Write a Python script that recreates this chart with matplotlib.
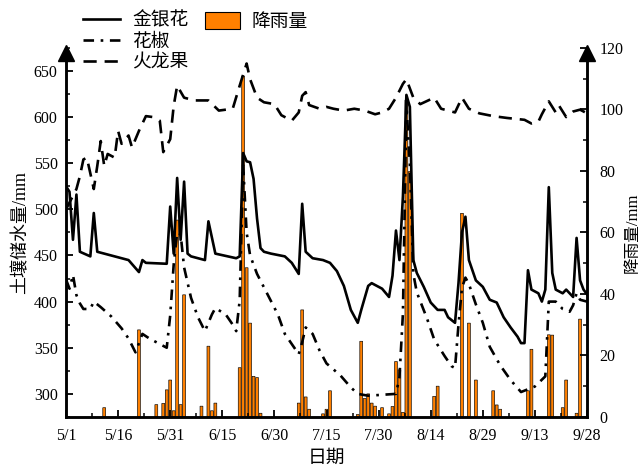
import matplotlib
matplotlib.use('Agg')
import matplotlib.pyplot as plt
import matplotlib.transforms as mtransforms
from matplotlib.patches import Patch
from matplotlib.ticker import MultipleLocator

plt.rcParams['font.family'] = ['Liberation Serif', 'Noto Sans CJK SC']
plt.rcParams['axes.unicode_minus'] = False

# x axis: days counted from 5/1
date_ticks = [0, 15, 30, 45, 60, 75, 90, 105, 120, 135, 150]
date_labels = ['5/1', '5/16', '5/31', '6/15', '6/30', '7/15', '7/30', '8/14', '8/29', '9/13', '9/28']

# soil water storage (mm) - honeysuckle
jyh_days = [0, 1, 2, 3, 4, 7, 8, 9, 14, 18, 21, 22, 23, 29, 30, 31, 32, 33, 34, 35, 36, 40, 41, 43,
            49, 50, 51, 52, 53, 54, 55, 56, 57, 59, 63, 65, 67, 68, 69, 71, 74, 76, 78, 80, 82, 84,
            85, 87, 88, 91, 93, 94, 95, 96, 97, 98, 99, 100, 101, 103, 105, 107, 109, 110, 112, 113,
            114, 115, 116, 117, 118, 120, 122, 124, 126, 128, 130, 131, 132, 133, 134, 136, 137, 138,
            139, 140, 141, 143, 144, 146, 147, 148, 149, 150]
jyh_water = [525, 519, 467, 516, 454, 449, 496, 454, 449, 445, 432, 445, 442, 441, 503, 452, 534, 467, 530, 452, 449, 445, 487, 452,
             447, 449, 561, 552, 551, 533, 490, 458, 454, 452, 449, 442, 430, 506, 454, 447, 445, 442, 433, 417, 391, 377,
             391, 417, 420, 414, 405, 428, 477, 445, 514, 624, 611, 445, 431, 416, 399, 391, 391, 383, 377, 420,
             475, 492, 445, 434, 423, 416, 402, 399, 383, 372, 362, 355, 355, 434, 413, 409, 400, 413,
             524, 431, 413, 409, 413, 405, 469, 423, 413, 408]

# soil water storage (mm) - Sichuan pepper
hj_days = [0, 1, 2, 3, 4, 5, 7, 8, 10, 13, 16, 18, 20, 22, 24, 27, 29, 30, 31, 32, 33, 34, 36, 38, 40,
           42, 43, 46, 48, 49, 50, 51, 52, 53, 55, 58, 61, 63, 67, 68, 69, 71, 73, 75, 79, 82, 84, 87,
           95, 96, 97, 98, 99, 100, 101, 104, 106, 109, 111, 112, 113, 114, 115, 116, 118, 120, 122,
           125, 128, 131, 135, 138, 139, 141, 143, 145, 146, 147, 148, 150]
hj_water = [424, 414, 429, 407, 398, 392, 392, 400, 394, 384, 371, 360, 345, 365, 360, 354, 350, 385, 440, 475, 473, 437, 404, 383, 368,
            386, 393, 386, 375, 368, 401, 548, 475, 450, 430, 408, 386, 365, 343, 356, 372, 365, 347, 333, 320, 307, 300, 298,
            300, 318, 387, 614, 549, 430, 410, 381, 359, 341, 330, 328, 375, 415, 426, 419, 397, 377, 351,
            331, 315, 302, 308, 319, 400, 400, 392, 389, 396, 409, 402, 400]

# soil water storage (mm) - pitaya
hlg_days = [0, 3, 4, 5, 6, 8, 9, 10, 11, 12, 14, 15, 16, 18, 19, 21, 23, 25, 27, 28, 30, 31, 32, 34, 37,
            41, 44, 48, 50, 52, 53, 55, 57, 60, 62, 65, 67, 68, 69, 70, 73, 75, 77, 80, 83, 86, 89, 91,
            93, 95, 97, 98, 100, 102, 106, 108, 112, 114, 116, 119, 123, 127, 132, 134, 136, 137, 139,
            141, 142, 144, 146, 148, 150]
hlg_water = [500, 522, 536, 554, 556, 522, 547, 574, 547, 560, 556, 585, 571, 580, 567, 585, 601, 600, 596, 562, 576, 612, 634, 621, 618,
             618, 607, 609, 634, 658, 641, 621, 616, 614, 602, 596, 605, 623, 627, 613, 609, 611, 609, 607, 609, 607, 603, 605,
             609, 621, 636, 641, 621, 614, 621, 609, 605, 621, 609, 604, 601, 599, 597, 593, 595, 603, 617,
             605, 612, 600, 606, 608, 604]

# daily rainfall (mm)
rain_days = [11, 21, 26, 28, 29, 30, 31, 32, 33, 34, 39, 41, 42, 43, 50, 51, 52, 53, 54, 55, 56,
             67, 68, 69, 70, 74, 75, 76, 84, 85, 86, 87, 88, 89, 91, 93, 94, 95, 96, 97, 98, 99,
             106, 107, 114, 116, 118, 123, 124, 125, 133, 134, 139, 140, 143, 144, 147, 148]
rain_mm = [3, 28.3, 4, 4.4, 8.8, 12, 2, 64, 4, 39.7, 3.5, 23, 2, 4.5, 16, 110.8, 48.5, 30.5, 13.2, 12.8, 1.2,
           4.5, 34.8, 6.5, 2.5, 1, 2.5, 8.5, 0.8, 24.6, 6, 7.5, 4.5, 3.5, 3, 1, 3.4, 18, 15.3, 1.5, 103, 79.8,
           6.7, 10, 66.2, 30.5, 12, 8.5, 3.9, 2.5, 8.5, 22, 26.7, 26.6, 3, 12, 1.2, 31.8]

fig = plt.figure(figsize=(6.44, 4.69), dpi=100)
ax = fig.add_axes([0.1025, 0.111, 0.809, 0.787])
ax2 = ax.twinx()

# narrow bars: no pixel snapping so every bar keeps its orange fill
ax2.bar(rain_days, rain_mm, width=0.82, color='#ff8000', edgecolor='black', linewidth=0.45, snap=False)

# keep the lines above the rain bars
ax.set_zorder(ax2.get_zorder() + 1)
ax.patch.set_visible(False)

lw = 1.9
l1, = ax.plot(jyh_days, jyh_water, color='black', lw=lw, label='金银花')
l2, = ax.plot(hj_days, hj_water, color='black', lw=lw, linestyle=(0, (4, 2.5, 1, 2.5)), label='花椒')
l3, = ax.plot(hlg_days, hlg_water, color='black', lw=lw, linestyle=(0, (5, 3)), label='火龙果')

ax.set_xlim(0, 150)
ax.set_ylim(275, 675)
ax2.set_ylim(0, 120)

ax.set_xticks(date_ticks)
ax.set_xticklabels(date_labels)
ax.xaxis.set_minor_locator(MultipleLocator(7.5))
ax.set_yticks(range(300, 651, 50))
ax.yaxis.set_minor_locator(MultipleLocator(25))
ax2.set_yticks(range(0, 121, 20))
ax2.yaxis.set_minor_locator(MultipleLocator(10))

for a in (ax, ax2):
    a.spines['top'].set_visible(False)
    for s in ('left', 'right', 'bottom'):
        a.spines[s].set_linewidth(1.8)
    a.tick_params(which='major', direction='in', length=5, width=1.3, labelsize=11.5)
    a.tick_params(which='minor', direction='in', length=3, width=1.1)
ax.tick_params(axis='x', pad=8)
ax.tick_params(axis='y', pad=6)
ax2.tick_params(axis='y', pad=9)

ax.set_xlabel('日期', fontsize=13.5, labelpad=4)
ax.set_ylabel('土壤储水量/mm', fontsize=13, labelpad=3)
ax2.set_ylabel('降雨量/mm', fontsize=12, rotation=90, labelpad=1)

# arrow heads on top of both y axes
arrow_tr = mtransforms.offset_copy(ax.transAxes, fig=fig, y=-4, units='points')
for xpos in (0, 1):
    ax.plot(xpos, 1, marker='^', markersize=11, color='black', transform=arrow_tr, clip_on=False)

fig.legend(handles=[l1, l2, l3], loc='upper left', bbox_to_anchor=(0.129, 0.975), frameon=False,
           fontsize=13.5, handlelength=1.97, handletextpad=0.64, labelspacing=0.22, borderpad=0, borderaxespad=0)
fig.legend(handles=[Patch(facecolor='#ff8000', edgecolor='black', linewidth=0.8, label='降雨量')],
           loc='upper left', bbox_to_anchor=(0.318, 0.975), frameon=False, fontsize=13.5,
           handlelength=1.87, handleheight=1.0, handletextpad=0.64, borderpad=0, borderaxespad=0)

fig.savefig('out.png', dpi=100)
